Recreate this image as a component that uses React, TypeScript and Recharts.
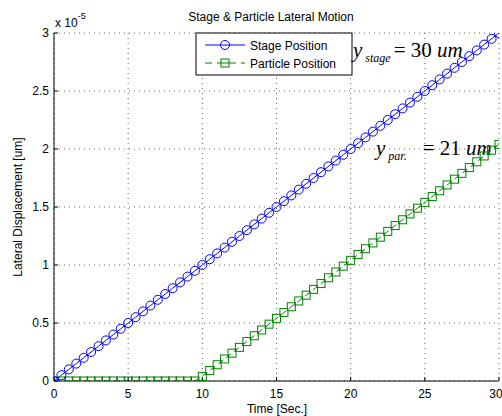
import React from "react";
import { LineChart, Line, XAxis, YAxis, CartesianGrid, Customized } from "recharts";

// time in seconds, positions in units of 1e-5
const time = [
  0, 0.5, 1, 1.5, 2, 2.5, 3, 3.5, 4, 4.5, 5, 5.5, 6, 6.5, 7, 7.5, 8, 8.5, 9, 9.5,
  10, 10.5, 11, 11.5, 12, 12.5, 13, 13.5, 14, 14.5, 15, 15.5, 16, 16.5, 17, 17.5, 18, 18.5, 19, 19.5,
  20, 20.5, 21, 21.5, 22, 22.5, 23, 23.5, 24, 24.5, 25, 25.5, 26, 26.5, 27, 27.5, 28, 28.5, 29, 29.5, 30,
];

const stagePosition = [
  0, 0.05, 0.1, 0.15, 0.2, 0.25, 0.3, 0.35, 0.4, 0.45, 0.5, 0.55, 0.6, 0.65, 0.7, 0.75, 0.8, 0.85, 0.9, 0.95,
  1, 1.05, 1.1, 1.15, 1.2, 1.25, 1.3, 1.35, 1.4, 1.45, 1.5, 1.55, 1.6, 1.65, 1.7, 1.75, 1.8, 1.85, 1.9, 1.95,
  2, 2.05, 2.1, 2.15, 2.2, 2.25, 2.3, 2.35, 2.4, 2.45, 2.5, 2.55, 2.6, 2.65, 2.7, 2.75, 2.8, 2.85, 2.9, 2.95, 3,
];

const particlePosition = [
  0, 0, 0, 0, 0, 0, 0, 0, 0, 0, 0, 0, 0, 0, 0, 0, 0, 0, 0, 0,
  0.04, 0.09, 0.14, 0.19, 0.24, 0.29, 0.34, 0.39, 0.44, 0.49, 0.54, 0.59, 0.64, 0.69, 0.74, 0.79, 0.84, 0.89, 0.94, 0.99,
  1.04, 1.09, 1.14, 1.19, 1.24, 1.29, 1.34, 1.39, 1.44, 1.49, 1.54, 1.59, 1.64, 1.69, 1.74, 1.79, 1.84, 1.89, 1.94, 1.99, 2.04,
];

const xTicks = [0, 5, 10, 15, 20, 25, 30];
const yTicks = [0, 0.5, 1, 1.5, 2, 2.5, 3];

const data = time.map((t, i) => ({ t, stage: stagePosition[i], particle: particlePosition[i] }));

const BLUE = "#0000ff";
const GREEN = "#008000";
const SANS = "'Liberation Sans', Arial, Helvetica, sans-serif";
const SERIF = "'Liberation Serif', 'Times New Roman', serif";

const SquareDot = (props: any) => {
  const { cx, cy, index } = props;
  if (cx == null || cy == null) return null;
  return (
    <rect key={index} x={cx - 4} y={cy - 4} width={8} height={8} fill="none" stroke={GREEN} strokeWidth={1} />
  );
};

const Overlay = () => (
  <g>
    <text x={271} y={21} textAnchor="middle" fontSize={12} fontFamily={SANS} fill="#000">
      Stage &amp; Particle Lateral Motion
    </text>
    <text x={55} y={27} fontSize={12} fontFamily={SANS} fill="#000">
      x 10
      <tspan dy={-8} fontSize={9}>-5</tspan>
    </text>
    <text
      x={18}
      y={207}
      transform="rotate(-90 18 207)"
      textAnchor="middle"
      dominantBaseline="central"
      fontSize={12}
      fontFamily={SANS}
      fill="#000"
    >
      Lateral Displacement [um]
    </text>
    <text x={277} y={413} textAnchor="middle" fontSize={12} fontFamily={SANS} fill="#000">
      Time [Sec.]
    </text>

    {/* legend */}
    <rect x={196} y={33} width={156} height={42} fill="#fff" stroke="#000" strokeWidth={1} />
    <line x1={205} y1={45} x2={245} y2={45} stroke={BLUE} strokeWidth={1} />
    <circle cx={225} cy={45} r={4.5} fill="none" stroke={BLUE} strokeWidth={1} />
    <text x={250} y={49.5} fontSize={12} fontFamily={SANS} fill="#000">Stage Position</text>
    <line x1={205} y1={63} x2={245} y2={63} stroke={GREEN} strokeWidth={1} strokeDasharray="7 5" />
    <rect x={221} y={59} width={8} height={8} fill="#fff" stroke={GREEN} strokeWidth={1} />
    <line x1={221} y1={63} x2={229} y2={63} stroke={GREEN} strokeWidth={1} />
    <text x={250} y={67.5} fontSize={12} fontFamily={SANS} fill="#000">Particle Position</text>

    {/* annotations */}
    <text x={353} y={57} fontSize={21} fontFamily={SERIF} fill="#000">
      <tspan fontStyle="italic">y</tspan>
      <tspan dx={3} dy={5} fontSize={12} fontStyle="italic">stage</tspan>
      <tspan dx={3} dy={-5}>= 30 </tspan>
      <tspan fontStyle="italic">um</tspan>
    </text>
    <text x={376} y={155} fontSize={21} fontFamily={SERIF} fill="#000">
      <tspan fontStyle="italic">y</tspan>
      <tspan dx={3} dy={5} fontSize={12} fontStyle="italic">par.</tspan>
      <tspan dx={16} dy={-5}>= 21 </tspan>
      <tspan fontStyle="italic">um</tspan>
    </text>
  </g>
);

export default function App() {
  return (
    <div style={{ position: "absolute", left: 0, top: 0, background: "#fff" }}>
      <LineChart width={502} height={416} data={data} margin={{ top: 33, right: 3, bottom: 0, left: 0 }}>
        <CartesianGrid stroke="#666" strokeDasharray="1 4" />
        <XAxis
          dataKey="t"
          type="number"
          domain={[0, 30]}
          ticks={xTicks}
          height={35}
          tickSize={-4}
          tickMargin={12}
          stroke="#000"
          tick={{ fill: "#000", fontSize: 12, fontFamily: SANS }}
          allowDataOverflow
        />
        <XAxis
          xAxisId="top"
          dataKey="t"
          type="number"
          orientation="top"
          domain={[0, 30]}
          ticks={xTicks}
          height={0}
          tickSize={-4}
          stroke="#000"
          tick={{ fill: "none", fontSize: 1 }}
        />
        <YAxis
          type="number"
          domain={[0, 3]}
          ticks={yTicks}
          width={54}
          tickSize={-4}
          tickMargin={9}
          stroke="#000"
          tick={{ fill: "#000", fontSize: 12, fontFamily: SANS }}
          allowDataOverflow
        />
        <YAxis
          yAxisId="right"
          type="number"
          orientation="right"
          domain={[0, 3]}
          ticks={yTicks}
          width={0}
          tickSize={-4}
          stroke="#000"
          tick={{ fill: "none", fontSize: 1 }}
        />
        <Line
          dataKey="particle"
          stroke={GREEN}
          strokeWidth={1}
          strokeDasharray="6 4"
          dot={<SquareDot />}
          isAnimationActive={false}
        />
        <Line
          dataKey="stage"
          stroke={BLUE}
          strokeWidth={1}
          dot={{ r: 4.5, stroke: BLUE, fill: "none", strokeWidth: 1 }}
          isAnimationActive={false}
        />
        <Customized component={Overlay} />
      </LineChart>
    </div>
  );
}
